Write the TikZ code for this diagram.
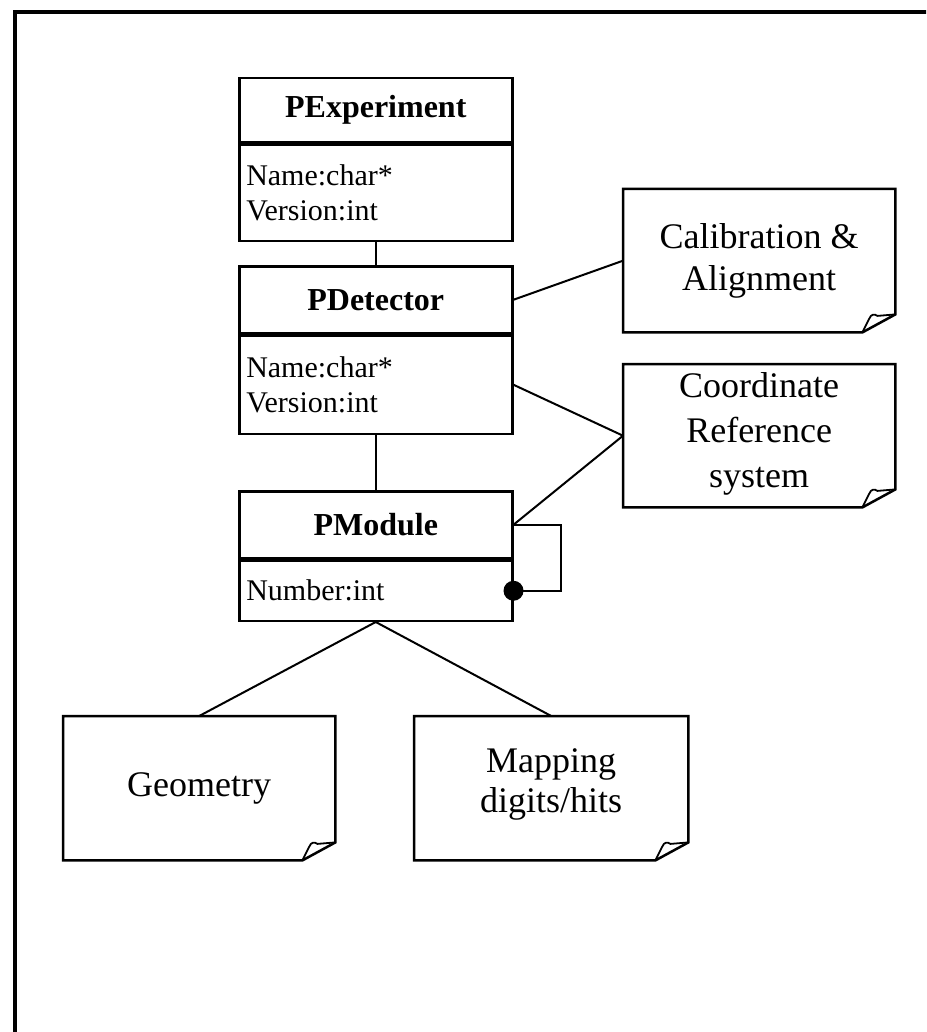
\documentclass[tikz,border=0pt]{standalone}
\usepackage{fontspec}
\setmainfont{Liberation Serif}
% outline of a note with a curled bottom-right corner
\newcommand\drawnote[1]{%
  \draw[noteline] (#1.north west) -- (#1.north east)
    -- ([shift={(0,-18)}]#1.south east)
    -- ([shift={(-33,0)}]#1.south east)
    -- (#1.south west) -- cycle;
  \draw[foldline] ([shift={(-33,0)}]#1.south east)
    -- ([shift={(-26,-14)}]#1.south east)
    .. controls ([shift={(-24.5,-18)}]#1.south east) and ([shift={(-21,-19)}]#1.south east)
    .. ([shift={(-18,-16.5)}]#1.south east)
    -- ([shift={(0,-18)}]#1.south east);
}
% extra depth under the last line of a note, to lift its text
\newcommand\lift[1]{\rule[-#1]{0pt}{0pt}}
\begin{document}
\begin{tikzpicture}[x=1pt,y=-1pt,
  clstitle/.style={draw, line width=2.5pt, anchor=north west, inner sep=0pt,
    minimum width=273pt, font=\fontsize{32}{38}\selectfont\bfseries},
  clsattr/.style={draw, line width=2.5pt, anchor=north west, inner xsep=7pt, inner ysep=0pt,
    text width=259pt, align=left, font=\fontsize{30}{35.5}\selectfont},
  note/.style={anchor=north west, inner sep=0pt, align=center,
    font=\fontsize{36}{42}\selectfont},
  noteline/.style={line width=2.5pt, line join=miter},
  foldline/.style={line width=1.8pt, line join=round},
  conn/.style={line width=2pt},
  frameline/.style={line width=3.5pt}]
\useasboundingbox (0,0) rectangle (926,1032);
\clip (0,0) rectangle (926,1032);
\draw[frameline] (15,1100) -- (15,12) -- (1000,12);

% classes
\node[clstitle, minimum height=64pt] (expT) at (238,77) {PExperiment};
\node[clsattr, minimum height=96pt] (expA) at (expT.south west) {Name:char*\\Version:int};
\node[clstitle, minimum height=67pt] (detT) at (238,265) {PDetector};
\node[clsattr, minimum height=98pt] (detA) at (detT.south west) {Name:char*\\Version:int};
\node[clstitle, minimum height=67pt] (modT) at (238,490) {PModule};
\node[clsattr, minimum height=60pt] (modA) at (modT.south west) {Number:int};

% notes
\node[note, minimum width=272pt, minimum height=143pt] (cal) at (623,189)
  {Calibration \&\\Alignment\lift{4pt}};
\node[note, minimum width=272pt, minimum height=143pt, font=\fontsize{36}{45}\selectfont] (crs) at (623,364)
  {Coordinate\\Reference\\system\lift{12pt}};
\node[note, minimum width=272pt, minimum height=144pt] (geo) at (63,716)
  {Geometry\lift{8pt}};
\node[note, minimum width=274pt, minimum height=144pt, font=\fontsize{36}{40}\selectfont] (map) at (414,716)
  {Mapping\\digits/hits\lift{16pt}};
\drawnote{cal}
\drawnote{crs}
\drawnote{geo}
\drawnote{map}

% connectors
\draw[conn] (expA.south) -- (detT.north);
\draw[conn] (detA.south) -- (modT.north);
\draw[conn] (detT.east) -- (cal.west);
\draw[conn] (detA.east) -- (crs.west);
\draw[conn] (modT.east) -- (crs.west);
\draw[conn] (modT.east) -- ++(47,0) |- (modA.east);
\fill (modA.east) circle (10pt);
\draw[conn] (modA.south) -- (geo.north);
\draw[conn] (modA.south) -- (map.north);
\end{tikzpicture}
\end{document}
